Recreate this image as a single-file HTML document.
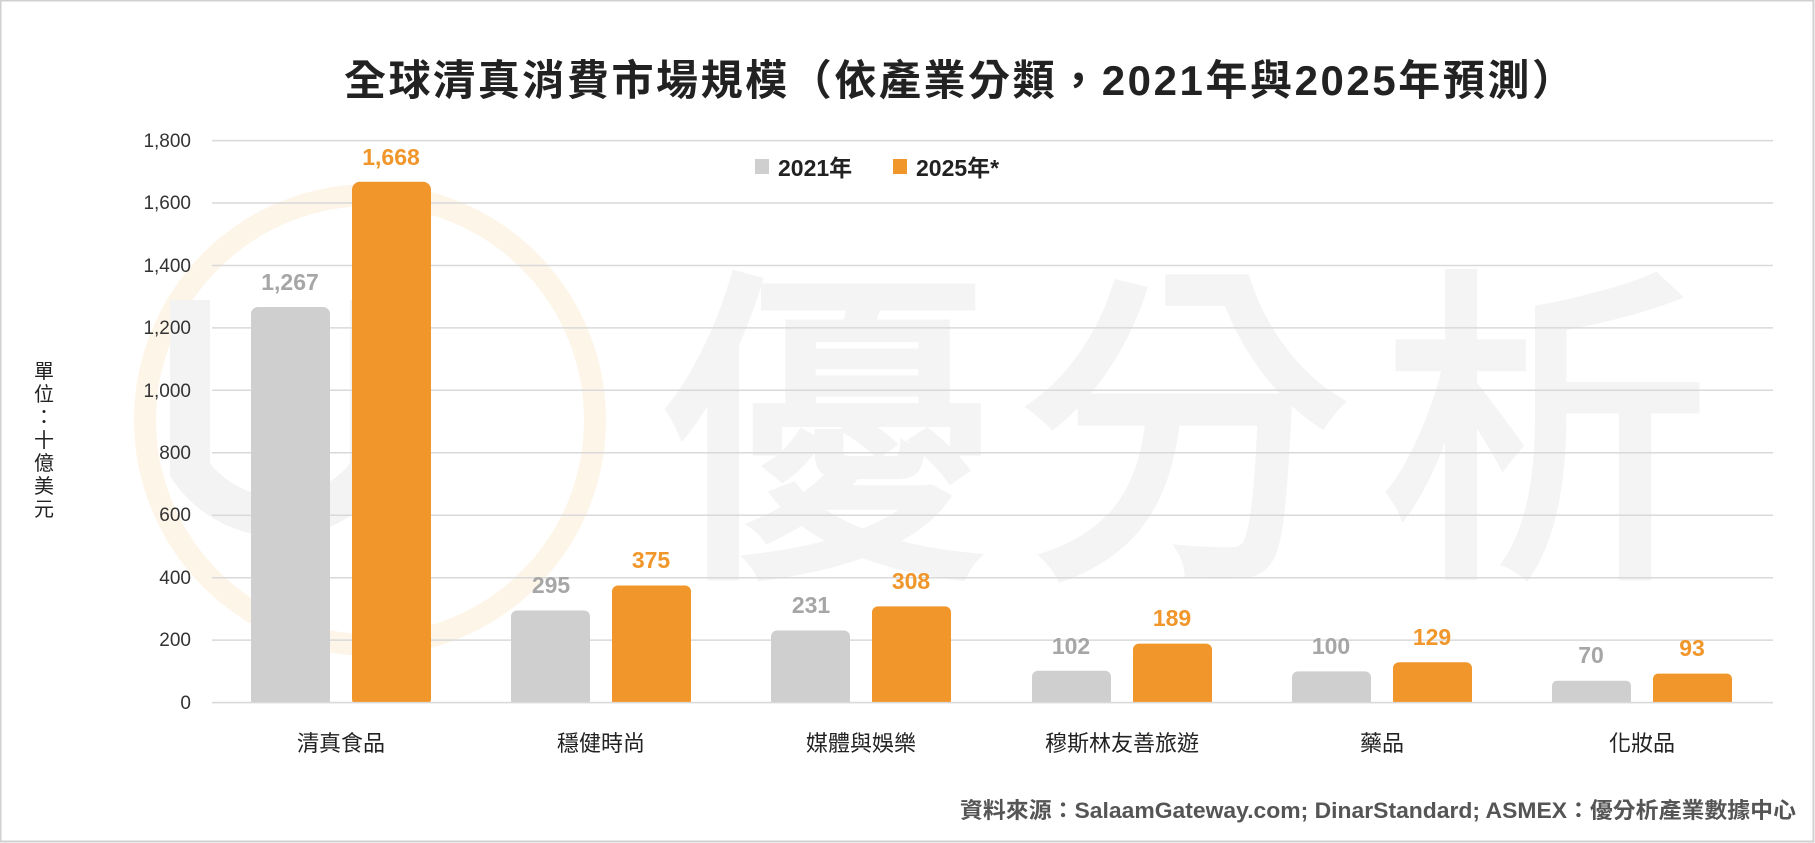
<!DOCTYPE html>
<html><head><meta charset="utf-8"><style>
html,body{margin:0;padding:0;background:#fff;}
svg{display:block;}
text{font-family:"Liberation Sans","Noto Sans CJK TC",sans-serif;}
</style></head><body>
<svg width="1815" height="843" viewBox="0 0 1815 843" xmlns="http://www.w3.org/2000/svg">
<rect x="0.5" y="0.5" width="1813" height="841" fill="#fff" stroke="#d0d0d0" stroke-width="2"/>
<!-- watermark -->
<circle cx="370" cy="420" r="225" fill="none" stroke="#fdf5e8" stroke-width="22"/>
<path d="M 190 300 L 190 470 A 110 110 0 0 0 370 470 L 370 300" fill="none" stroke="#f3f3f3" stroke-width="40"/>
<text x="1200" y="550" font-size="330" fill="#f4f4f4" stroke="#f4f4f4" stroke-width="8" text-anchor="middle" letter-spacing="30">優分析</text>
<!-- title -->
<text x="344" y="95" font-size="42" font-weight="bold" fill="#222" textLength="1230" lengthAdjust="spacing">全球清真消費市場規模（依產業分類，2021年與2025年預測）</text>
<!-- gridlines -->
<g stroke="#d9d9d9" stroke-width="1.5">
<line x1="212" x2="1773" y1="140.6" y2="140.6"/>
<line x1="212" x2="1773" y1="203" y2="203"/>
<line x1="212" x2="1773" y1="265.5" y2="265.5"/>
<line x1="212" x2="1773" y1="327.9" y2="327.9"/>
<line x1="212" x2="1773" y1="390.3" y2="390.3"/>
<line x1="212" x2="1773" y1="452.8" y2="452.8"/>
<line x1="212" x2="1773" y1="515.2" y2="515.2"/>
<line x1="212" x2="1773" y1="577.7" y2="577.7"/>
<line x1="212" x2="1773" y1="640.1" y2="640.1"/>
<line x1="212" x2="1773" y1="702.6" y2="702.6"/>
</g>
<g font-size="19" fill="#333" text-anchor="end">
<text x="191" y="147">1,800</text>
<text x="191" y="209">1,600</text>
<text x="191" y="272">1,400</text>
<text x="191" y="334">1,200</text>
<text x="191" y="397">1,000</text>
<text x="191" y="459">800</text>
<text x="191" y="521">600</text>
<text x="191" y="584">400</text>
<text x="191" y="646">200</text>
<text x="191" y="709">0</text>
</g>
<!-- y label -->
<g font-size="20" fill="#222" text-anchor="middle">
<text x="44" y="378">單</text><text x="44" y="401">位</text><text x="44" y="424">：</text><text x="44" y="447">十</text><text x="44" y="470">億</text><text x="44" y="493">美</text><text x="44" y="516">元</text>
</g>
<!-- legend -->
<rect x="755" y="159" width="14" height="15" fill="#cfcfcf"/>
<text x="778" y="176" font-size="23" font-weight="bold" fill="#222">2021年</text>
<rect x="893" y="159" width="14" height="15" fill="#f0962a"/>
<text x="916" y="176" font-size="23" font-weight="bold" fill="#222">2025年*</text>
<!-- bars -->
<g fill="#cfcfcf">
<rect x="251" y="307" width="79" height="400" rx="7"/>
<rect x="511" y="610.5" width="79" height="96" rx="6"/>
<rect x="771" y="630.5" width="79" height="76" rx="6"/>
<rect x="1032" y="670.8" width="79" height="36" rx="6"/>
<rect x="1292" y="671.4" width="79" height="35" rx="6"/>
<rect x="1552" y="680.7" width="79" height="26" rx="5"/>
</g>
<g fill="#f0962a">
<rect x="352" y="181.8" width="79" height="525" rx="8"/>
<rect x="612" y="585.5" width="79" height="121" rx="6"/>
<rect x="872" y="606.4" width="79" height="100" rx="6"/>
<rect x="1133" y="643.6" width="79" height="63" rx="6"/>
<rect x="1393" y="662.3" width="79" height="44" rx="6"/>
<rect x="1653" y="673.6" width="79" height="33" rx="5"/>
</g>
<rect x="200" y="702.6" width="1580" height="8" fill="#fff"/>
<line x1="212" x2="1773" y1="702.6" y2="702.6" stroke="#d9d9d9" stroke-width="1.5"/>
<!-- data labels -->
<g font-size="23" font-weight="bold" text-anchor="middle" fill="#a6a6a6">
<text x="290" y="290">1,267</text>
<text x="551" y="593">295</text>
<text x="811" y="613">231</text>
<text x="1071" y="654">102</text>
<text x="1331" y="654">100</text>
<text x="1591" y="663">70</text>
</g>
<g font-size="23" font-weight="bold" text-anchor="middle" fill="#f0962a">
<text x="391" y="165">1,668</text>
<text x="651" y="568">375</text>
<text x="911" y="589">308</text>
<text x="1172" y="626">189</text>
<text x="1432" y="645">129</text>
<text x="1692" y="656">93</text>
</g>
<!-- categories -->
<g font-size="22" fill="#222" text-anchor="middle">
<text x="341" y="751">清真食品</text>
<text x="601" y="751">穩健時尚</text>
<text x="861" y="751">媒體與娛樂</text>
<text x="1122" y="751">穆斯林友善旅遊</text>
<text x="1382" y="751">藥品</text>
<text x="1642" y="751">化妝品</text>
</g>
<text x="960" y="818" font-size="22" font-weight="bold" fill="#555" textLength="836" lengthAdjust="spacingAndGlyphs">資料來源：SalaamGateway.com; DinarStandard; ASMEX：優分析產業數據中心</text>
</svg>
</body></html>
